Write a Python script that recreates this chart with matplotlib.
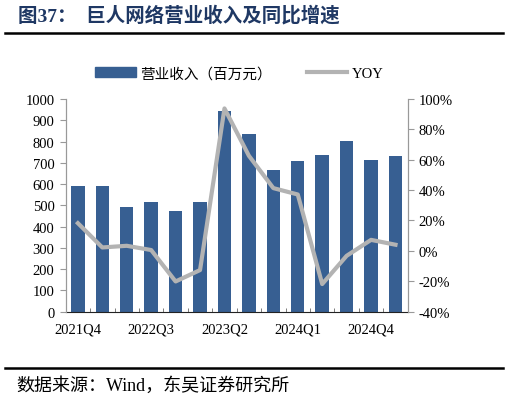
import numpy as np
import matplotlib.pyplot as plt
from matplotlib.lines import Line2D
from matplotlib.ticker import FixedLocator, FuncFormatter

plt.rcParams['font.family'] = ['Liberation Serif', 'Noto Sans CJK SC']

# 数据
quarters = ['2021Q4', '2022Q1', '2022Q2', '2022Q3', '2022Q4', '2023Q1', '2023Q2',
            '2023Q3', '2023Q4', '2024Q1', '2024Q2', '2024Q3', '2024Q4', '2025Q1']
revenue = [592, 589, 492, 517, 474, 517, 943, 834, 666, 707, 738, 801, 713, 733]
yoy = [18.2, 2.2, 3.3, 0.5, -20.2, -12.7, 93.8, 62.6, 41.3, 37.1, -21.9, -3.3, 7.2, 4.0]

bar_color = '#375F92'
line_color = '#B3B3B3'
title_color = '#1F3864'

fig = plt.figure(figsize=(5.09, 4.02), dpi=100)
ax = fig.add_axes([0.129, 0.2226, 0.672, 0.5286])
ax2 = ax.twinx()

x = np.arange(len(quarters))
ax.bar(x, revenue, width=0.55, color=bar_color, zorder=2)
ax2.plot(x, yoy, color=line_color, lw=3, zorder=3)

ax.set_xlim(-0.5, len(quarters) - 0.5)
ax.set_ylim(0, 1000)
ax.set_yticks(np.arange(0, 1001, 100))
ax2.set_ylim(-40, 100)
ax2.set_yticks(np.arange(-40, 101, 20))
ax2.yaxis.set_major_formatter(FuncFormatter(lambda v, p: f'{v:.0f}%'))

ax.set_xticks(x[::3])
ax.set_xticklabels(quarters[::3])
ax.xaxis.set_minor_locator(FixedLocator(np.arange(-0.5, len(quarters), 1)))
ax.tick_params(axis='x', which='major', length=0, labelsize=10.5, pad=8)
ax.tick_params(axis='x', which='minor', length=3, direction='in', color='#666666')
ax.tick_params(axis='y', length=4, color='#999999', labelsize=10.5, pad=4)
ax2.tick_params(axis='y', length=4, color='#999999', labelsize=10.5, pad=4)

for a in (ax, ax2):
    a.spines['top'].set_visible(False)
    a.spines['left'].set_color('#999999')
    a.spines['right'].set_color('#999999')
    a.spines['bottom'].set_color('#222222')
ax2.spines['bottom'].set_visible(False)
ax.set_zorder(ax2.get_zorder() - 1)
ax.patch.set_visible(False)

handles = [plt.Rectangle((0, 0), 1, 1, color=bar_color),
           Line2D([0], [0], color=line_color, lw=3)]
fig.legend(handles, ['营业收入（百万元）', 'YOY'], loc='center', ncol=2,
           bbox_to_anchor=(0.47, 0.815), frameon=False, fontsize=10.5,
           handlelength=2.8, handleheight=0.7, columnspacing=2.4, handletextpad=0.3)

fig.text(0.035, 0.962, '图37：  巨人网络营业收入及同比增速', fontsize=14, fontweight='bold',
         color=title_color, va='center', ha='left')
fig.add_artist(Line2D([0.01, 0.988], [0.915, 0.915], color='black', lw=1.8))
fig.add_artist(Line2D([0.01, 0.988], [0.082, 0.082], color='black', lw=1.8))
fig.text(0.033, 0.04, '数据来源：Wind，东吴证券研究所', fontsize=13, va='center', ha='left')

fig.savefig('out.png', dpi=100)
